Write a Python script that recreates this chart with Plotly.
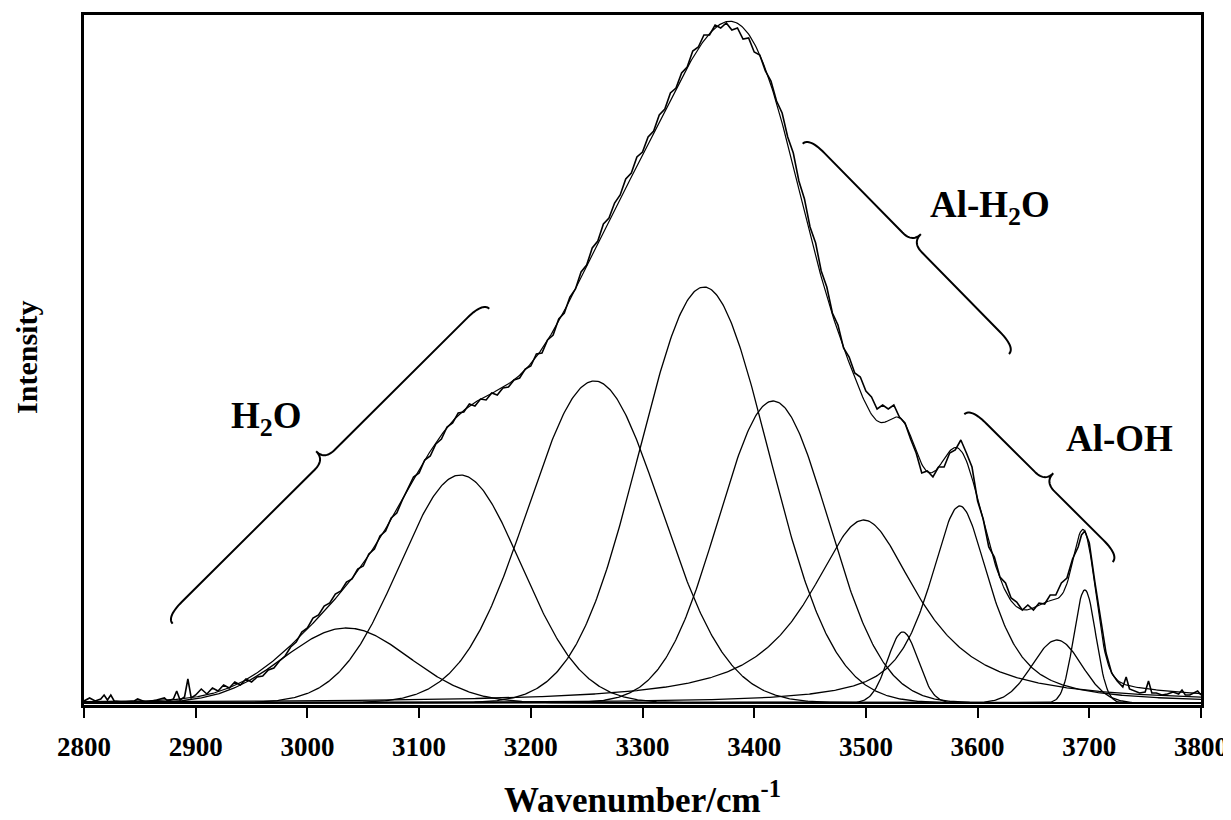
import numpy as np
import plotly.graph_objects as go

# ---------------- data ----------------
# fitted band parameters (pseudo-Voigt): centre (cm-1), height (a.u.), HWHM (cm-1), Lorentzian fraction
peak_centers = [3035, 3137, 3257, 3355, 3417, 3498, 3533, 3584, 3671, 3696]
peak_heights = [75, 228, 322, 416, 302, 183, 71, 197, 63, 113]
peak_hwhm = [66, 64, 70, 68, 58, 58, 16, 33, 26, 11.5]
peak_lorentz_frac = [0, 0, 0, 0, 0, 0.9, 0, 0.8, 0, 0]

# measured spectrum (wavenumber cm-1, intensity a.u.)
obs_wavenumber = [
    2800, 2805, 2810, 2815, 2818, 2821, 2824, 2827, 2835, 2845, 2848, 2855, 2865, 2872, 2875, 2880,
    2883, 2886, 2890, 2893, 2896, 2900, 2905, 2910, 2915, 2920, 2925, 2930, 2935, 2940, 2945, 2950,
    2955, 2960, 2965, 2970, 2975, 2980, 2985, 2990, 2995, 3000, 3005, 3010, 3015, 3020, 3025, 3030,
    3035, 3040, 3045, 3050, 3055, 3060, 3065, 3070, 3075, 3080, 3085, 3090, 3095, 3100, 3105, 3110,
    3115, 3120, 3125, 3130, 3135, 3140, 3145, 3150, 3155, 3160, 3165, 3170, 3175, 3180, 3185, 3190,
    3195, 3200, 3205, 3210, 3215, 3220, 3225, 3230, 3235, 3240, 3245, 3250, 3255, 3260, 3265, 3270,
    3275, 3280, 3285, 3290, 3295, 3300, 3305, 3310, 3315, 3320, 3325, 3330, 3335, 3340, 3345, 3350,
    3355, 3360, 3365, 3370, 3375, 3380, 3385, 3390, 3395, 3400, 3405, 3410, 3415, 3420, 3425, 3430,
    3435, 3440, 3445, 3450, 3455, 3460, 3465, 3470, 3475, 3480, 3485, 3490, 3495, 3500, 3505, 3510,
    3515, 3520, 3525, 3530, 3535, 3540, 3545, 3550, 3555, 3560, 3565, 3570, 3575, 3580, 3585, 3590,
    3595, 3600, 3605, 3610, 3615, 3620, 3625, 3630, 3635, 3640, 3645, 3650, 3655, 3660, 3665, 3670,
    3675, 3680, 3685, 3690, 3693, 3696, 3700, 3705, 3710, 3715, 3720, 3725, 3730, 3733, 3736, 3740,
    3745, 3750, 3753, 3756, 3760, 3765, 3770, 3775, 3780, 3783, 3786, 3790, 3794, 3797, 3800]
obs_intensity = [
    2, 5, 2, 4, 8, 3, 8, 2, 1, 2, 4, 1, 3, 5, 2, 4,
    12, 3, 6, 24, 5, 8, 14, 9, 15, 12, 18, 15, 21, 18, 24, 21,
    26, 27, 33, 35, 42, 47, 56, 61, 71, 75, 85, 88, 97, 100, 109, 112,
    121, 124, 134, 137, 149, 154, 167, 172, 185, 190, 203, 214, 226, 230, 243, 247,
    259, 264, 276, 280, 290, 291, 299, 297, 304, 303, 310, 308, 315, 316, 323, 325,
    334, 337, 349, 350, 363, 368, 384, 390, 406, 414, 431, 438, 455, 462, 479, 485,
    500, 508, 524, 530, 546, 551, 566, 572, 588, 594, 610, 615, 630, 636, 652, 656,
    668, 668, 678, 675, 680, 673, 675, 664, 665, 651, 648, 632, 622, 602, 590, 566,
    550, 522, 504, 476, 460, 432, 416, 390, 378, 355, 346, 330, 326, 312, 306, 294,
    298, 294, 298, 286, 280, 264, 250, 230, 232, 226, 236, 236, 250, 253, 263, 250,
    236, 202, 184, 156, 146, 126, 120, 105, 101, 93, 98, 93, 100, 99, 108, 108,
    120, 125, 144, 156, 168, 172, 160, 121, 84, 50, 30, 22, 16, 26, 14, 12,
    10, 11, 22, 10, 10, 8, 9, 11, 9, 13, 8, 8, 10, 12, 8]

tick_values = [2800, 2900, 3000, 3100, 3200, 3300, 3400, 3500, 3600, 3700, 3800]

band_labels = ["H<sub>2</sub>O", "Al-H<sub>2</sub>O", "Al-OH"]
y_title = "Intensity"
# ------------------------------------------------------------

FONT = "Liberation Serif, Times New Roman, serif"
# the page body adds a small offset, so the figure is drawn a little smaller
W, H = 1223, 812
ML, MR, MT, MB = 76, 30, 7, 115
XR = [2800, 3800]
YR = [-2, 688]

x = np.arange(2800, 3800.5, 1.0)


def pvoigt(xv, c, h, w, eta):
    r2 = ((xv - c) / w) ** 2
    return h * (eta / (1 + r2) + (1 - eta) * np.exp(-np.log(2) * r2))


fig = go.Figure()

comps = []
for c, h, w, eta in zip(peak_centers, peak_heights, peak_hwhm, peak_lorentz_frac):
    yc = pvoigt(x, c, h, w, eta)
    comps.append(yc)
    fig.add_trace(go.Scatter(x=x, y=yc, mode="lines", line=dict(color="black", width=1.3),
                             showlegend=False, hoverinfo="skip"))

fig.add_trace(go.Scatter(x=obs_wavenumber, y=obs_intensity, mode="lines",
                         line=dict(color="black", width=1.6), showlegend=False))
fig.add_trace(go.Scatter(x=x, y=np.sum(comps, axis=0), mode="lines",
                         line=dict(color="black", width=1.2), showlegend=False))

# ---- helpers: data <-> pixel
pw = W - ML - MR
ph = H - MT - MB


def d2p(xd, yd):
    return (ML + (xd - XR[0]) / (XR[1] - XR[0]) * pw,
            MT + (YR[1] - yd) / (YR[1] - YR[0]) * ph)


def p2d(px, py):
    return (XR[0] + (px - ML) / pw * (XR[1] - XR[0]),
            YR[1] - (py - MT) / ph * (YR[1] - YR[0]))


def brace(p0, p1, h=9.0, tip=21.0, r_end=22.0, r_tip=14.0):
    """curly brace between two pixel points, bulging to the upper side"""
    p0 = np.array(p0, float)
    p1 = np.array(p1, float)
    L = np.linalg.norm(p1 - p0)
    u = (p1 - p0) / L
    n = np.array([u[1], -u[0]])

    def cubic(a, b, c, d, k=16):
        t = np.linspace(0, 1, k)[:, None]
        return ((1 - t) ** 3) * a + 3 * ((1 - t) ** 2) * t * b + 3 * (1 - t) * t ** 2 * c + t ** 3 * d

    def quad(a, b, c, k=16):
        t = np.linspace(0, 1, k)[:, None]
        return ((1 - t) ** 2) * a + 2 * (1 - t) * t * b + t ** 2 * c

    P = lambda a, b: np.array([a, b], float)
    m = L / 2
    pts = [cubic(P(0, 0), P(0, 0.6 * h), P(0.3 * r_end, h), P(r_end, h)),
           quad(P(m - r_tip, h), P(m, h), P(m, tip)),
           quad(P(m, tip), P(m, h), P(m + r_tip, h)),
           cubic(P(L - r_end, h), P(L - 0.3 * r_end, h), P(L, 0.6 * h), P(L, 0))]
    uv = np.vstack(pts)
    xy = p0[None, :] + uv[:, :1] * u[None, :] + uv[:, 1:2] * n[None, :]
    segs = []
    for i, (px, py) in enumerate(xy):
        dx, dy = p2d(px, py)
        segs.append(("M" if i == 0 else "L") + f"{dx:.3f},{dy:.3f}")
    return " ".join(segs)


# brace end points (data coordinates)
brace_ends = [((2879.4, 79.3), (3162.8, 394.3)),
              ((3443.4, 559.3), (3628.1, 349.0)),
              ((3588.1, 288.7), (3720.9, 141.0))]
for a, b in brace_ends:
    path = brace(d2p(*a), d2p(*b))
    fig.add_shape(type="path", path=path, xref="x", yref="y",
                  line=dict(color="black", width=2))

label_pos = [(2963, 285), (3611, 496), (3726.6, 265)]
for txt, (lx, ly) in zip(band_labels, label_pos):
    fig.add_annotation(x=lx, y=ly, xref="x", yref="y", text=txt, showarrow=False,
                       font=dict(family=FONT, size=37, color="black", weight="bold"))

# y-axis title placed as a rotated label left of the frame
fig.add_annotation(x=(19 - ML) / pw, y=0.503, xref="paper", yref="paper", text=y_title,
                   textangle=-90, showarrow=False, xanchor="center", yanchor="middle",
                   font=dict(family=FONT, size=30, color="black", weight="bold"))

fig.update_layout(
    width=W, height=H,
    margin=dict(l=ML, r=MR, t=MT, b=MB, autoexpand=False),
    paper_bgcolor="white", plot_bgcolor="white",
    showlegend=False,
)
fig.update_xaxes(
    range=XR, tickvals=tick_values, ticktext=[str(v) for v in tick_values],
    ticks="outside", ticklen=10, tickwidth=2, tickcolor="black",
    tickfont=dict(family=FONT, size=27, color="black", weight="bold"),
    ticklabelstandoff=6,
    showline=True, linewidth=3, linecolor="black", mirror=True,
    showgrid=False, zeroline=False,
    title=dict(text="Wavenumber/cm<sup>-1</sup>", standoff=29,
               font=dict(family=FONT, size=35, color="black", weight="bold")),
)
fig.update_yaxes(
    range=YR, showticklabels=False, ticks="",
    showline=True, linewidth=3, linecolor="black", mirror=True,
    showgrid=False, zeroline=False,
)

fig.write_html("out.html")
